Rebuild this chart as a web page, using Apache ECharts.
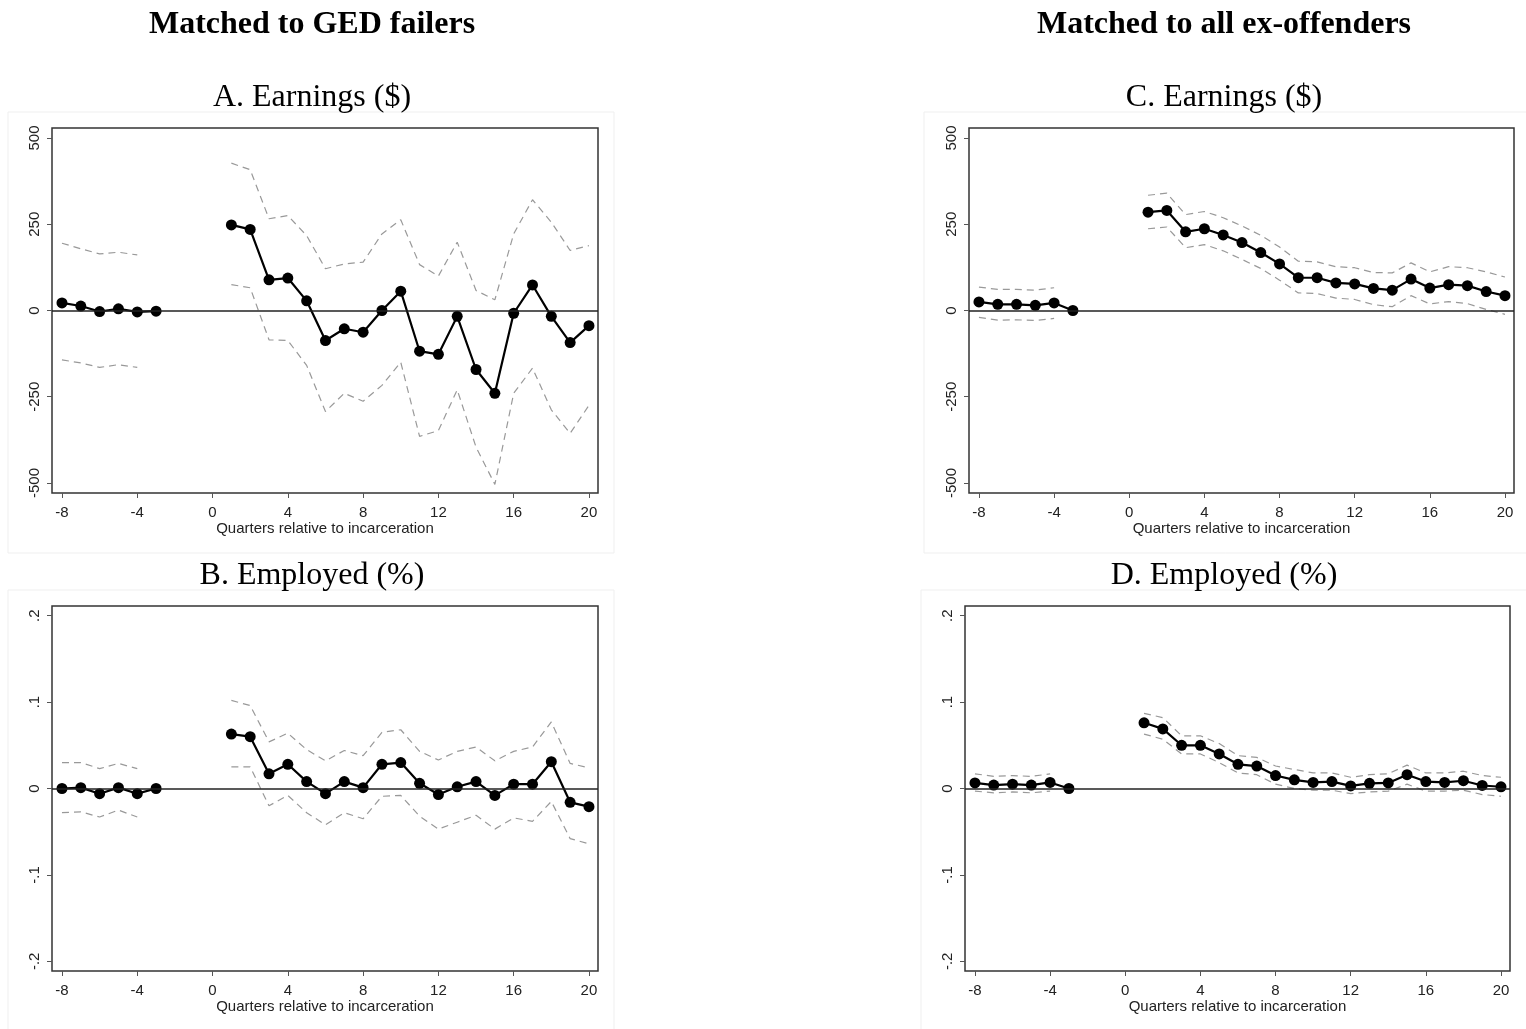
<!DOCTYPE html>
<html>
<head>
<meta charset="utf-8">
<script src="https://cdn.jsdelivr.net/npm/echarts@6/dist/echarts.min.js"></script>
<style>
  html, body { margin: 0; padding: 0; background: #fff; }
  #chart { width: 1526px; height: 1029px; }
</style>
</head>
<body>
<div id="chart"></div>
<script>
// Quarters relative to incarceration (no estimates for -2..0; -3 is the reference quarter)
const quarters = [-8,-7,-6,-5,-4,-3,-2,-1,0,1,2,3,4,5,6,7,8,9,10,11,12,13,14,15,16,17,18,19,20];

// A. Earnings ($), matched to GED failers
const earnGedEst = [22,13,-3,5,-4,-2,null,null,null,248,235,89,94,28,-87,-53,-63,0,56,-118,-127,-17,-171,-240,-8,74,-17,-93,-44];
const earnGedHi  = [195,179,164,169,161,null,null,null,null,427,408,266,275,217,121,135,140,222,263,133,100,198,58,31,222,321,256,174,188];
const earnGedLo  = [-143,-152,-165,-157,-165,null,null,null,null,75,66,-85,-87,-159,-293,-240,-263,-217,-150,-365,-348,-230,-396,-504,-240,-167,-288,-356,-275];

// B. Employed (%), matched to GED failers
const empGedEst = [0,0.001,-0.006,0.001,-0.006,0,null,null,null,0.063,0.060,0.017,0.028,0.008,-0.006,0.008,0.001,0.028,0.030,0.006,-0.007,0.002,0.008,-0.008,0.005,0.005,0.031,-0.016,-0.021];
const empGedHi  = [0.030,0.030,0.023,0.029,0.023,null,null,null,null,0.102,0.096,0.054,0.064,0.045,0.032,0.044,0.038,0.065,0.068,0.043,0.033,0.043,0.048,0.032,0.043,0.048,0.077,0.029,0.024];
const empGedLo  = [-0.028,-0.027,-0.033,-0.025,-0.033,null,null,null,null,0.025,0.025,-0.020,-0.008,-0.028,-0.042,-0.028,-0.035,-0.009,-0.008,-0.032,-0.047,-0.039,-0.031,-0.047,-0.034,-0.038,-0.015,-0.058,-0.064];

// C. Earnings ($), matched to all ex-offenders
const earnAllEst = [25,18,18,15,22,0,null,null,null,285,290,228,237,219,197,168,135,95,95,80,77,64,59,91,65,75,72,55,43];
const earnAllHi  = [68,61,61,59,66,null,null,null,null,334,340,278,287,269,245,218,184,143,141,127,124,110,109,138,112,127,124,112,97];
const earnAllLo  = [-20,-28,-27,-29,-23,null,null,null,null,237,242,182,191,173,148,122,88,51,49,36,32,17,11,43,19,26,20,3,-11];

// D. Employed (%), matched to all ex-offenders
const empAllEst = [0.0065,0.004,0.005,0.004,0.007,0,null,null,null,0.076,0.069,0.050,0.050,0.040,0.028,0.026,0.015,0.010,0.007,0.008,0.003,0.006,0.0065,0.016,0.008,0.007,0.009,0.0035,0.002];
const empAllHi  = [0.017,0.014,0.015,0.014,0.017,null,null,null,null,0.087,0.082,0.061,0.061,0.052,0.038,0.036,0.026,0.022,0.018,0.018,0.013,0.016,0.017,0.027,0.018,0.018,0.020,0.015,0.013];
const empAllLo  = [-0.003,-0.005,-0.004,-0.005,-0.003,null,null,null,null,0.063,0.057,0.040,0.040,0.030,0.018,0.016,0.005,0.000,-0.002,-0.002,-0.006,-0.004,-0.003,0.005,-0.003,-0.003,-0.002,-0.007,-0.009];

// Tick labels
const xTicks = [-8,-4,0,4,8,12,16,20];
const earnTicks = [-500,-250,0,250,500];
const empTicks = [-0.2,-0.1,0,0.1,0.2];

const columnTitles = ['Matched to GED failers', 'Matched to all ex-offenders'];
const panelTitles = ['A. Earnings ($)', 'B. Employed (%)', 'C. Earnings ($)', 'D. Employed (%)'];
const xAxisTitle = 'Quarters relative to incarceration';

const pair = arr => quarters.map((q, i) => [q, arr[i]]);
const sans = 'Liberation Sans, Arial, sans-serif';
const serif = 'Liberation Serif, Times New Roman, serif';
const shareFmt = v => v === 0 ? '0' : String(v).replace('0.', '.');

const panels = [
  { grid: { left: 52, top: 128, width: 546, height: 365 }, est: earnGedEst, hi: earnGedHi, lo: earnGedLo, ticks: earnTicks, lim: 529, fmt: v => String(v) },
  { grid: { left: 52, top: 606, width: 546, height: 365 }, est: empGedEst, hi: empGedHi, lo: empGedLo, ticks: empTicks, lim: 0.2112, fmt: shareFmt },
  { grid: { left: 969, top: 128, width: 545, height: 365 }, est: earnAllEst, hi: earnAllHi, lo: earnAllLo, ticks: earnTicks, lim: 529, fmt: v => String(v) },
  { grid: { left: 965, top: 606, width: 545, height: 365 }, est: empAllEst, hi: empAllHi, lo: empAllLo, ticks: empTicks, lim: 0.2112, fmt: shareFmt }
];

const grids = [], xAxes = [], yAxes = [], series = [];
panels.forEach((p, k) => {
  grids.push(Object.assign({ show: true, borderColor: '#333', borderWidth: 1.5, backgroundColor: '#fff' }, p.grid));
  xAxes.push({
    type: 'value', gridIndex: k, min: -8.53, max: 20.48, position: 'bottom',
    name: xAxisTitle, nameLocation: 'middle', nameGap: 28,
    nameTextStyle: { fontFamily: sans, fontSize: 15, color: '#222' },
    axisLine: { show: false, onZero: false },
    axisTick: { show: true, length: 5, lineStyle: { color: '#555', width: 1 }, customValues: xTicks },
    axisLabel: { fontFamily: sans, fontSize: 15, color: '#222', margin: 12, customValues: xTicks },
    splitLine: { show: false }
  });
  yAxes.push({
    type: 'value', gridIndex: k, min: -p.lim, max: p.lim, position: 'left',
    axisLine: { show: false, onZero: false },
    axisTick: { show: true, length: 5, lineStyle: { color: '#555', width: 1 }, customValues: p.ticks },
    axisLabel: { fontFamily: sans, fontSize: 15, color: '#222', rotate: 90, margin: 10, customValues: p.ticks, formatter: p.fmt },
    splitLine: { show: false }
  });
  const dashed = { color: '#999', width: 1.2, type: [7, 5] };
  series.push({
    type: 'line', xAxisIndex: k, yAxisIndex: k, data: pair(p.hi), symbol: 'none',
    lineStyle: dashed, connectNulls: false, silent: true, z: 2
  });
  series.push({
    type: 'line', xAxisIndex: k, yAxisIndex: k, data: pair(p.lo), symbol: 'none',
    lineStyle: dashed, connectNulls: false, silent: true, z: 2
  });
  series.push({
    type: 'line', xAxisIndex: k, yAxisIndex: k, data: pair(p.est),
    symbol: 'circle', symbolSize: 11, showSymbol: true,
    itemStyle: { color: '#000' }, lineStyle: { color: '#000', width: 2.2 },
    connectNulls: false, z: 4,
    markLine: {
      silent: true, symbol: 'none', label: { show: false },
      lineStyle: { color: '#222', width: 1.5, type: 'solid' },
      data: [{ yAxis: 0 }]
    }
  });
});

// Faint outlines around each panel's region, plus the column and panel headings
const graphics = [
  { type: 'rect', shape: { x: 8, y: 112, width: 606, height: 441 }, style: { fill: 'none', stroke: '#efefef', lineWidth: 1 }, z: -10 },
  { type: 'rect', shape: { x: 8, y: 590, width: 606, height: 445 }, style: { fill: 'none', stroke: '#efefef', lineWidth: 1 }, z: -10 },
  { type: 'rect', shape: { x: 924, y: 112, width: 620, height: 441 }, style: { fill: 'none', stroke: '#efefef', lineWidth: 1 }, z: -10 },
  { type: 'rect', shape: { x: 921, y: 590, width: 620, height: 445 }, style: { fill: 'none', stroke: '#efefef', lineWidth: 1 }, z: -10 }
];
const colCenters = [312, 1224];
columnTitles.forEach((t, i) => {
  graphics.push({ type: 'text', x: colCenters[i], y: 25, style: { text: t, font: 'bold 32px ' + serif, fill: '#000', textAlign: 'center', textVerticalAlign: 'middle' } });
});
const panelTitlePos = [[312, 98], [312, 576], [1224, 98], [1224, 576]];
panelTitles.forEach((t, i) => {
  graphics.push({ type: 'text', x: panelTitlePos[i][0], y: panelTitlePos[i][1], style: { text: t, font: '32px ' + serif, fill: '#000', textAlign: 'center', textVerticalAlign: 'middle' } });
});

const chart = echarts.init(document.getElementById('chart'), null, { renderer: 'canvas' });
chart.setOption({
  animation: false,
  backgroundColor: '#fff',
  grid: grids,
  xAxis: xAxes,
  yAxis: yAxes,
  series: series,
  graphic: graphics
});
</script>
</body>
</html>
